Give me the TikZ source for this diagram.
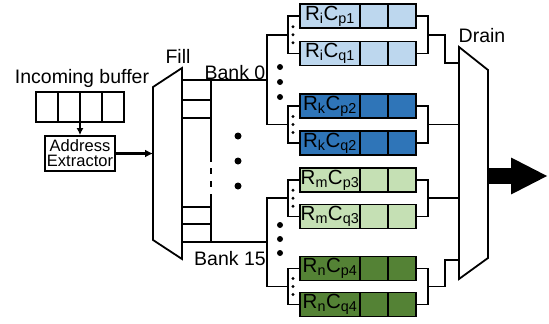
\documentclass[tikz,border=0pt]{standalone}
\usepackage{fontspec}
\setmainfont{Liberation Sans}
\usetikzlibrary{positioning,arrows.meta,calc}
\definecolor{rowi}{HTML}{BDD7EE}
\definecolor{rowk}{HTML}{2F75B8}
\definecolor{rowm}{HTML}{C5E0B4}
\definecolor{rown}{HTML}{548235}
\begin{document}
\begin{tikzpicture}[x=1pt,y=-1pt,
  lw/.style={line width=1.8pt},
  lbl/.style={inner sep=0pt, font=\fontsize{19.5}{21}\selectfont},
  rowname/.style={draw, lw, outer sep=0pt, inner sep=0pt, minimum width=60pt, minimum height=24pt, font=\fontsize{20.5}{21}\selectfont},
  rowcell/.style={draw, lw, outer sep=0pt, minimum width=28pt, minimum height=24pt},
  bufcell/.style={draw, lw, outer sep=0pt, minimum width=22pt, minimum height=30pt},
  bigdot/.style={circle, fill, inner sep=0pt, minimum size=7pt},
  middot/.style={circle, fill, inner sep=0pt, minimum size=6pt},
  tinydot/.style={circle, fill, inner sep=0pt, minimum size=3.2pt}]
\useasboundingbox (0,0) rectangle (549,324);
\node[lbl, anchor=base] (inlbl) at (82,83) {Incoming buffer};
\node[bufcell] (buf1) at (47,107) {};
\node[bufcell, right=0pt of buf1] (buf2) {};
\node[bufcell, right=0pt of buf2] (buf3) {};
\node[bufcell, right=0pt of buf3] (buf4) {};
\node[draw, lw, minimum width=70pt, minimum height=35pt, inner sep=0pt, align=center, font=\fontsize{16.5}{15}\selectfont] (addr) at (80,153.5) {Address\\Extractor};
\draw[lw, -{Latex[length=7pt,width=7pt]}] (buf2.south east) -- (addr.north);
\draw[lw, fill=white] (153,87) -- (182,68) -- (182,259) -- (153,240) -- cycle;
\coordinate (fillL) at (153,153.5);
\coordinate (fillR) at (182,0);
\node[lbl, anchor=base] (filllbl) at (178,63) {Fill};
\draw[line width=2.8pt, -{Latex[length=8pt,width=8pt]}] (addr.east) -- (fillL);
\node[rowname, fill=rowi] (p1) at (330,16) {R\textsubscript{i}C\textsubscript{p1}};
\node[rowcell, fill=rowi, right=0pt of p1] (p1a) {};
\node[rowcell, fill=rowi, right=0pt of p1a] (p1b) {};
\node[rowname, fill=rowi] (q1) at (330,53.5) {R\textsubscript{i}C\textsubscript{q1}};
\node[rowcell, fill=rowi, right=0pt of q1] (q1a) {};
\node[rowcell, fill=rowi, right=0pt of q1a] (q1b) {};
\node[rowname, fill=rowk] (p2) at (330,106) {R\textsubscript{k}C\textsubscript{p2}};
\node[rowcell, fill=rowk, right=0pt of p2] (p2a) {};
\node[rowcell, fill=rowk, right=0pt of p2a] (p2b) {};
\node[rowname, fill=rowk] (q2) at (330,143) {R\textsubscript{k}C\textsubscript{q2}};
\node[rowcell, fill=rowk, right=0pt of q2] (q2a) {};
\node[rowcell, fill=rowk, right=0pt of q2a] (q2b) {};
\node[rowname, fill=rowm] (p3) at (330,180) {R\textsubscript{m}C\textsubscript{p3}};
\node[rowcell, fill=rowm, right=0pt of p3] (p3a) {};
\node[rowcell, fill=rowm, right=0pt of p3a] (p3b) {};
\node[rowname, fill=rowm] (q3) at (330,216.5) {R\textsubscript{m}C\textsubscript{q3}};
\node[rowcell, fill=rowm, right=0pt of q3] (q3a) {};
\node[rowcell, fill=rowm, right=0pt of q3a] (q3b) {};
\node[rowname, fill=rown] (p4) at (330,268.5) {R\textsubscript{n}C\textsubscript{p4}};
\node[rowcell, fill=rown, right=0pt of p4] (p4a) {};
\node[rowcell, fill=rown, right=0pt of p4a] (p4b) {};
\node[rowname, fill=rown] (q4) at (330,304.5) {R\textsubscript{n}C\textsubscript{q4}};
\node[rowcell, fill=rown, right=0pt of q4] (q4a) {};
\node[rowcell, fill=rown, right=0pt of q4a] (q4b) {};
\coordinate (gi) at ($(p1.west)!.5!(q1.west)+(-12,0)$);
\coordinate (gk) at ($(p2.west)!.5!(q2.west)+(-12,0)$);
\coordinate (gm) at ($(p3.west)!.5!(q3.west)+(-12,0)$);
\coordinate (gn) at ($(p4.west)!.5!(q4.west)+(-12,0)$);
\draw[lw] (p1.west) -- ++(-12,0) |- (q1.west);
\draw[lw] (p2.west) -- ++(-12,0) |- (q2.west);
\draw[lw] (p3.west) -- ++(-12,0) |- (q3.west);
\draw[lw] (p4.west) -- ++(-12,0) |- (q4.west);
\coordinate (b0) at ($(gi)!.5!(gk)+(-21,0)$);
\coordinate (b15) at ($(gm)!.5!(gn)+(-21,0)$);
\draw[lw] (gi) -- ++(-21,0) |- (gk);
\draw[lw] (gm) -- ++(-21,0) |- (gn);
\draw[lw] (b0 -| fillR) -- (b0);
\draw[lw] (b15 -| fillR) -- (b15);
\draw[lw] ($(b0 -| fillR)+(0,20)$) -- ++(29,0);
\draw[lw] ($(b0 -| fillR)+(0,38)$) -- ++(29,0);
\draw[lw] ($(b15 -| fillR)+(0,-18)$) -- ++(29,0);
\draw[lw] ($(b15 -| fillR)+(0,-35)$) -- ++(29,0);
\draw[lw] ($(b0 -| fillR)+(29,0)$) -- (211,162);
\draw[lw, dash pattern=on 6pt off 7pt] (211,168) -- (211,200);
\draw[lw] (211,200) -- ($(b15 -| fillR)+(29,0)$);
\node[lbl, anchor=base] (bank0) at (235,79) {Bank 0};
\node[lbl, anchor=base] (bank15) at (230,265) {Bank 15};
\node[bigdot] (d1) at (238,136) {};
\node[bigdot] (d2) at (238,161) {};
\node[bigdot] (d3) at (238,186) {};
\node[middot] (e1) at (280,67) {};
\node[middot] (e2) at (280,82) {};
\node[middot] (e3) at (280,97) {};
\node[middot] (e4) at (280,225) {};
\node[middot] (e5) at (280,239) {};
\node[middot] (e6) at (280,253) {};
\node[tinydot] at ($(gi)+(5,-8)$) {};
\node[tinydot] at ($(gi)+(5,0)$) {};
\node[tinydot] at ($(gi)+(5,8)$) {};
\node[tinydot] at ($(gk)+(5,-8)$) {};
\node[tinydot] at ($(gk)+(5,0)$) {};
\node[tinydot] at ($(gk)+(5,8)$) {};
\node[tinydot] at ($(gm)+(5,-8)$) {};
\node[tinydot] at ($(gm)+(5,0)$) {};
\node[tinydot] at ($(gm)+(5,8)$) {};
\node[tinydot] at ($(gn)+(5,-8)$) {};
\node[tinydot] at ($(gn)+(5,0)$) {};
\node[tinydot] at ($(gn)+(5,8)$) {};
\draw[lw, fill=white] (459,47) -- (488,70) -- (488,258) -- (459,279) -- cycle;
\node[lbl, anchor=base] (drainlbl) at (482,42) {Drain};
\coordinate (drainL) at (459,0);
\coordinate (drainOut) at (488,176);
\coordinate (outTip) at (548,176);
\coordinate (oi) at ($(p1b.east)!.5!(q1b.east)+(12,0)$);
\coordinate (ok) at ($(p2b.east)!.5!(q2b.east)+(12,0)$);
\coordinate (om) at ($(p3b.east)!.5!(q3b.east)+(12,0)$);
\coordinate (on) at ($(p4b.east)!.5!(q4b.east)+(12,0)$);
\draw[lw] (p1b.east) -- ++(12,0) |- (q1b.east);
\draw[lw] (p2b.east) -- ++(12,0) |- (q2b.east);
\draw[lw] (p3b.east) -- ++(12,0) |- (q3b.east);
\draw[lw] (p4b.east) -- ++(12,0) |- (q4b.east);
\draw[lw] (oi) -- ++(17,0) |- (459,63);
\draw[lw] (ok) -- (ok -| drainL);
\draw[lw] (om) -- (om -| drainL);
\draw[lw] (on) -- ++(17,0) |- (459,260);
\draw[line width=16pt, -{Triangle[length=37pt,width=34pt]}] (drainOut) -- (outTip);
\end{tikzpicture}
\end{document}
